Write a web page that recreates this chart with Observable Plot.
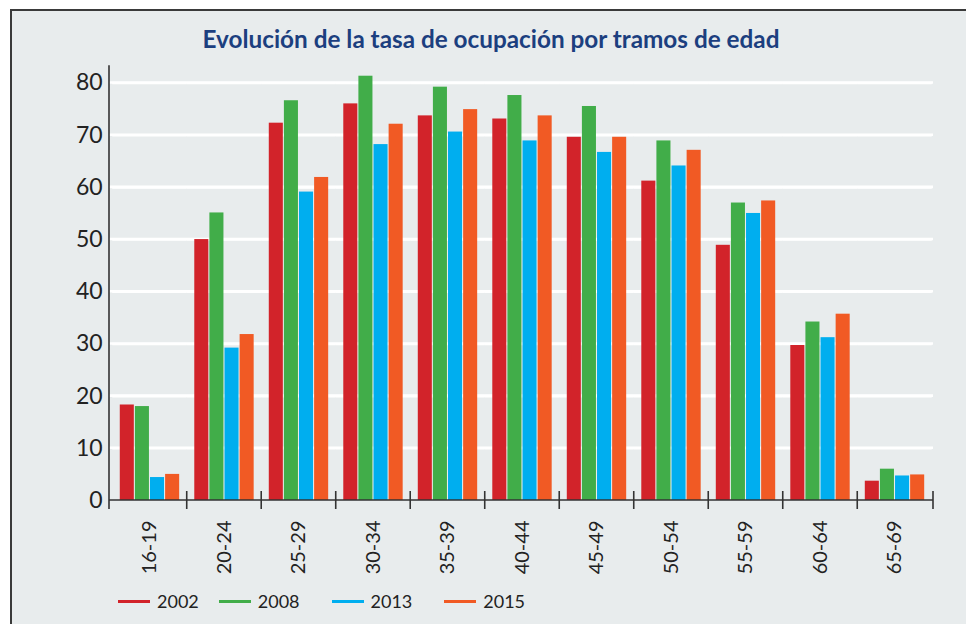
<!DOCTYPE html>
<html>
<head>
<meta charset="utf-8">
<script src="https://cdn.jsdelivr.net/npm/d3@7"></script>
<script src="https://cdn.jsdelivr.net/npm/@observablehq/plot@0.6"></script>
<style>
  html, body { margin: 0; padding: 0; background: #ffffff; overflow: hidden; width: 966px; height: 624px; }
  #frame { position: absolute; left: 10px; top: 9px; width: 1000px; height: 700px; background: #e8eced; border: 2px solid #3a3a3a; box-sizing: border-box; }
  #title { position: absolute; left: 10px; top: 24px; width: 962px; text-align: center; font-family: Lato, sans-serif; font-weight: 700; font-size: 24.3px; color: #1c3f7f; }
  #chart { position: absolute; left: 0; top: 0; }
  #legend { position: absolute; left: 118px; top: 590px; display: flex; gap: 32px; font-family: Lato, sans-serif; font-size: 18px; color: #222; }
  .item { display: flex; align-items: center; gap: 7px; }
  .item:first-child { margin-right: -12px; }
  .sw { width: 32px; height: 3px; }
</style>
</head>
<body>
<div id="frame"></div>
<div id="title">Evolución de la tasa de ocupación por tramos de edad</div>
<div id="chart"></div>
<div id="legend"></div>
<script>
const categories = ["16-19","20-24","25-29","30-34","35-39","40-44","45-49","50-54","55-59","60-64","65-69"];
const years = ["2002","2008","2013","2015"];
const v2002 = [18.3, 50.0, 72.3, 76.0, 73.7, 73.1, 69.6, 61.2, 48.9, 29.7, 3.7];
const v2008 = [18.0, 55.1, 76.6, 81.3, 79.2, 77.6, 75.5, 68.9, 57.0, 34.2, 6.0];
const v2013 = [4.4, 29.2, 59.1, 68.2, 70.6, 68.9, 66.7, 64.1, 55.0, 31.2, 4.7];
const v2015 = [5.0, 31.8, 61.9, 72.1, 74.9, 73.7, 69.6, 67.1, 57.4, 35.7, 4.9];
const yTicks = [0, 10, 20, 30, 40, 50, 60, 70, 80];
const colors = ["#d2232a", "#41ad49", "#00aeef", "#f15a24"];

const series = [v2002, v2008, v2013, v2015];
const data = [];
categories.forEach((c, i) => years.forEach((y, j) => data.push({cat: c, year: y, value: series[j][i]})));

const chart = Plot.plot({
  width: 966,
  height: 624,
  marginLeft: 109,
  marginRight: 33,
  marginTop: 82.5,
  marginBottom: 124,
  style: {background: "transparent", fontFamily: "Lato, sans-serif", color: "#222"},
  fx: {domain: categories, paddingInner: 0, paddingOuter: 0.03, align: 0.72, round: false, label: null},
  x: {domain: years, paddingInner: 0.07, paddingOuter: 0.5, round: false, axis: null},
  y: {domain: [0, 80], ticks: yTicks, label: null},
  color: {domain: years, range: colors},
  marks: [
    Plot.gridY(yTicks.filter(d => d > 0), {stroke: "#ffffff", strokeOpacity: 1, strokeWidth: 2.6}),
    Plot.barY(data, {fx: "cat", x: "year", y: "value", fill: "year"}),
    Plot.axisY({ticks: yTicks, tickSize: 0, tickPadding: 10, fontSize: 23, label: null}),
    Plot.axisFx({anchor: "bottom", tickSize: 0, tickPadding: 20, tickRotate: -90, fontSize: 20, label: null})
  ]
});
document.getElementById("chart").appendChild(chart);

// axis lines, gridline fill-in and boundary ticks from the library's scales
const fx = chart.scale("fx");
const ys = chart.scale("y");
const svg = d3.select(chart);
const y0 = ys.apply(0);
const x0 = fx.range[0];
const x1 = fx.range[1];
const grid = svg.insert("g", ":first-child").attr("stroke", "#ffffff").attr("stroke-width", 2.6);
yTicks.filter(d => d > 0).forEach(t => {
  grid.append("line").attr("x1", x0).attr("x2", x1).attr("y1", ys.apply(t)).attr("y2", ys.apply(t));
});
const g = svg.append("g").attr("stroke", "#333").attr("stroke-width", 1.6);
g.append("line").attr("x1", x0).attr("x2", x0).attr("y1", ys.apply(83.3)).attr("y2", y0 + 9);
g.append("line").attr("x1", x0).attr("x2", x1).attr("y1", y0).attr("y2", y0);
categories.forEach((c, i) => {
  const x = fx.apply(c);
  if (i > 0) g.append("line").attr("x1", x).attr("x2", x).attr("y1", y0 - 9).attr("y2", y0 + 9);
});
g.append("line").attr("x1", x1).attr("x2", x1).attr("y1", y0 - 9).attr("y2", y0 + 9);

// legend
const legend = d3.select("#legend");
years.forEach((y, i) => {
  const it = legend.append("div").attr("class", "item");
  it.append("div").attr("class", "sw").style("background", colors[i]);
  it.append("span").text(y);
});
</script>
</body>
</html>
